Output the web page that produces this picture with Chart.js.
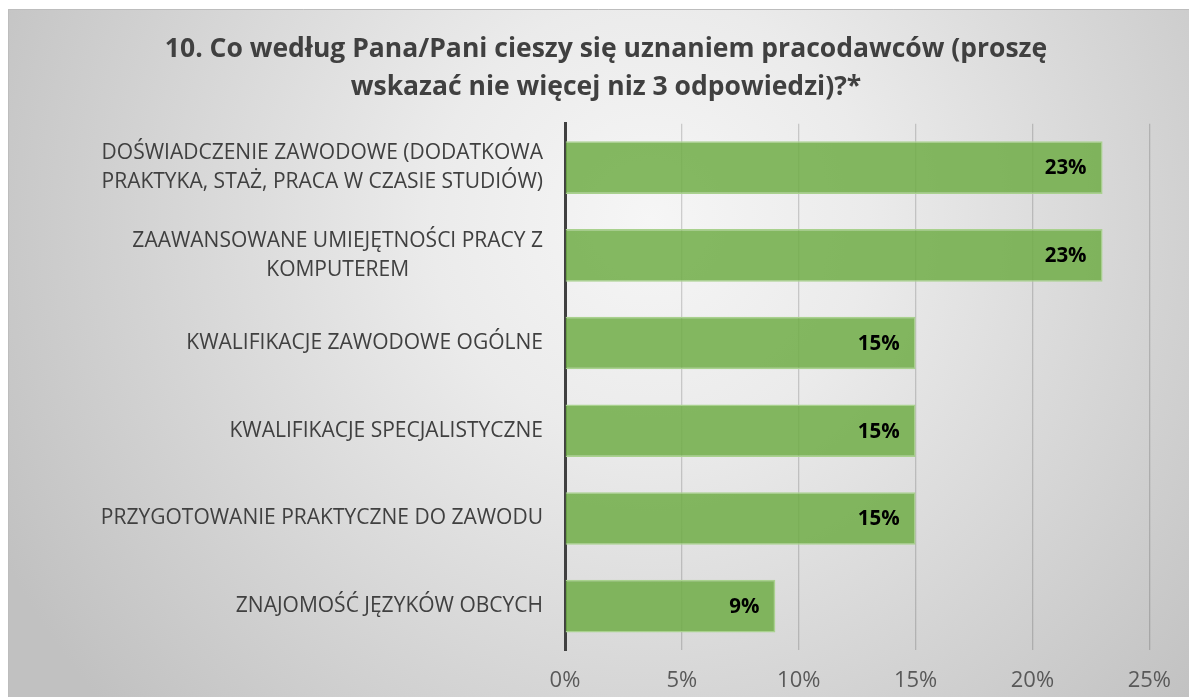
<!DOCTYPE html>
<html>
<head>
<meta charset="utf-8">
<script src="https://cdn.jsdelivr.net/npm/chart.js@4.4.0/dist/chart.umd.min.js"></script>
<style>
	html, body { margin: 0; padding: 0; background: #fff; overflow: hidden; }
	.wrap { position: relative; width: 1189px; height: 697px; overflow: hidden; }
	.frag { position: absolute; left: 196px; top: -27px; font: bold 24px 'Liberation Serif', serif; color: #000; }
</style>
</head>
<body>
<div class="wrap">
	<canvas id="myChart" width="1189" height="697"></canvas>
	<div class="frag">g</div>
</div>
<script>
// dane wykresu
var kategorie = [
	['DOŚWIADCZENIE ZAWODOWE (DODATKOWA', 'PRAKTYKA, STAŻ, PRACA W CZASIE STUDIÓW)'],
	['ZAAWANSOWANE UMIEJĘTNOŚCI PRACY Z', 'KOMPUTEREM'],
	'KWALIFIKACJE ZAWODOWE OGÓLNE',
	'KWALIFIKACJE SPECJALISTYCZNE',
	'PRZYGOTOWANIE PRAKTYCZNE DO ZAWODU',
	'ZNAJOMOŚĆ JĘZYKÓW OBCYCH'
];
var wartosci = [23, 23, 15, 15, 15, 9];
var osX = ['0%', '5%', '10%', '15%', '20%', '25%'];
var tytul = ['10. Co według Pana/Pani cieszy się uznaniem pracodawców (proszę', 'wskazać nie więcej niz 3 odpowiedzi)?*'];

var FONT = "'Open Sans', sans-serif";

// tlo z gradientem
var tlo = {
	id: 'tlo',
	beforeDraw: function(chart){
		var ctx = chart.ctx, w = chart.width, h = chart.height;
		ctx.save();
		ctx.fillStyle = '#fff';
		ctx.fillRect(0, 0, w, h);
		var g = ctx.createRadialGradient(650, 220, 0, 650, 220, 730);
		g.addColorStop(0, '#f6f6f6');
		g.addColorStop(0.3, '#ebebeb');
		g.addColorStop(1, '#c1c1c1');
		ctx.fillStyle = g;
		ctx.fillRect(8, 9, w - 8, h - 9);
		ctx.strokeStyle = '#bdbdbd';
		ctx.lineWidth = 1;
		ctx.beginPath();
		ctx.moveTo(8.5, h); ctx.lineTo(8.5, 9.5); ctx.lineTo(w, 9.5);
		ctx.stroke();
		ctx.restore();
	}
};

// podpisy kategorii (wysrodkowane w bloku, wyrownane do osi)
var podpisy = {
	id: 'podpisy',
	afterDraw: function(chart){
		var ctx = chart.ctx, y = chart.scales.y;
		var prawo = chart.chartArea.left - 22;
		ctx.save();
		ctx.font = '21px ' + FONT;
		ctx.fillStyle = '#404040';
		ctx.textAlign = 'center';
		ctx.textBaseline = 'middle';
		kategorie.forEach(function(k, i){
			var linie = Array.isArray(k) ? k : [k];
			var szer = 0;
			linie.forEach(function(l){ szer = Math.max(szer, ctx.measureText(l).width); });
			var cy = y.getPixelForValue(i);
			var lh = 29;
			var y0 = cy - (linie.length - 1) * lh / 2;
			linie.forEach(function(l, j){
				ctx.fillText(l, prawo - szer / 2, y0 + j * lh);
			});
		});
		ctx.restore();
	}
};

// wartosci na slupkach
var etykiety = {
	id: 'etykiety',
	afterDatasetsDraw: function(chart){
		var ctx = chart.ctx;
		var meta = chart.getDatasetMeta(0);
		ctx.save();
		ctx.font = 'bold 20.5px ' + FONT;
		ctx.fillStyle = '#000';
		ctx.textAlign = 'right';
		ctx.textBaseline = 'middle';
		meta.data.forEach(function(bar, i){
			ctx.fillText(wartosci[i] + '%', bar.x - 16, bar.y + 1);
		});
		ctx.restore();
	}
};

var ctx = document.getElementById('myChart').getContext('2d');
var chart = new Chart(ctx, {
	type: 'bar',
	data: {
		labels: kategorie,
		datasets: [{
			data: wartosci,
			backgroundColor: 'rgba(112,173,71,0.85)',
			borderColor: '#a9d18e',
			borderWidth: 1.5,
			barPercentage: 0.6,
			categoryPercentage: 1
		}]
	},
	options: {
		indexAxis: 'y',
		responsive: false,
		animation: false,
		layout: { padding: { left: 38, right: 15, top: 0, bottom: 0 } },
		plugins: {
			legend: { display: false },
			tooltip: { enabled: false },
			title: {
				display: true,
				text: tytul,
				color: '#404040',
				font: { family: FONT, size: 26.5, weight: 'bold', lineHeight: 1.43 },
				padding: { top: 31, bottom: 17 }
			}
		},
		scales: {
			x: {
				min: 0,
				max: 25,
				ticks: {
					stepSize: 5,
					color: '#595959',
					padding: 18,
					font: { family: FONT, size: 22 },
					callback: function(v, i){ return osX[i]; }
				},
				grid: { color: 'rgba(0,0,0,0.16)', lineWidth: 1.3, drawTicks: false },
				border: { display: false },
				afterFit: function(s){ s.height = 47; }
			},
			y: {
				ticks: { display: false },
				grid: { display: false },
				border: { display: true, color: '#404040', width: 3 },
				afterFit: function(s){ s.width = 527; }
			}
		}
	},
	plugins: [tlo, podpisy, etykiety]
});
</script>
</body>
</html>
